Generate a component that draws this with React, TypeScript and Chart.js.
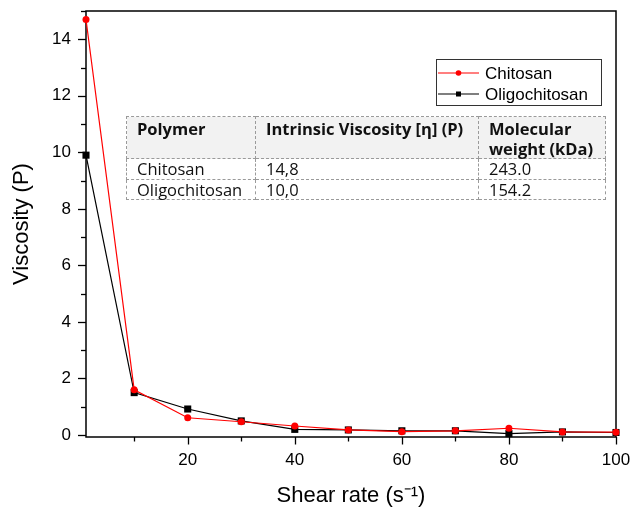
import React, { useEffect, useRef } from "react";
import { Chart, registerables } from "chart.js";

Chart.register(...registerables);

// ---- data ----
const shearRate = [1, 10, 20, 30, 40, 50, 60, 70, 80, 90, 100];
const chitosan = [14.7, 1.6, 0.61, 0.47, 0.32, 0.18, 0.12, 0.15, 0.24, 0.11, 0.1];
const oligochitosan = [9.9, 1.5, 0.92, 0.5, 0.2, 0.18, 0.15, 0.15, 0.05, 0.11, 0.09];
const seriesNames = ["Chitosan", "Oligochitosan"];

const xTickValues = [10, 20, 30, 40, 50, 60, 70, 80, 90, 100];
const xLabeledTicks = [20, 40, 60, 80, 100];
const yTickValues = [0, 1, 2, 3, 4, 5, 6, 7, 8, 9, 10, 11, 12, 13, 14, 15];
const yLabeledTicks = [0, 2, 4, 6, 8, 10, 12, 14];

const tableHeader = ["Polymer", "Intrinsic Viscosity [η] (P)", "Molecular\nweight (kDa)"];
const tablePolymers = ["Chitosan", "Oligochitosan"];
const tableIntrinsic = ["14,8", "10,0"];
const tableMolWeight = ["243.0", "154.2"];

const AXIS_FONT = "'Liberation Sans', Arial, sans-serif";
const TABLE_FONT = "'Open Sans', 'Noto Sans', sans-serif";

const frameAndTicksPlugin = {
  id: "frameAndTicks",
  beforeDatasetsDraw(chart: any) {
    const { ctx, chartArea: a, scales } = chart;
    ctx.save();
    ctx.strokeStyle = "#000";
    ctx.lineWidth = 1.5;
    ctx.strokeRect(a.left, a.top, a.right - a.left, a.bottom - a.top);
    ctx.lineWidth = 1.3;
    const xs = scales.x;
    xs.ticks.forEach((t: any) => {
      const px = Math.round(xs.getPixelForValue(t.value)) + 0.5;
      const len = xLabeledTicks.includes(t.value) ? 7.5 : 4.5;
      ctx.beginPath();
      ctx.moveTo(px, a.bottom);
      ctx.lineTo(px, a.bottom + len);
      ctx.stroke();
    });
    const ys = scales.y;
    ys.ticks.forEach((t: any) => {
      const py = Math.round(ys.getPixelForValue(t.value)) + 0.5;
      const len = yLabeledTicks.includes(t.value) ? 8 : 5;
      ctx.beginPath();
      ctx.moveTo(a.left, py);
      ctx.lineTo(a.left - len, py);
      ctx.stroke();
    });
    ctx.restore();
  },
};

const legendPlugin = {
  id: "boxLegend",
  afterDraw(chart: any) {
    const { ctx, chartArea: a } = chart;
    const boxW = 165;
    const boxH = 46;
    const x0 = a.right - 15 - boxW;
    const y0 = a.top + 48;
    ctx.save();
    ctx.strokeStyle = "#333";
    ctx.lineWidth = 1;
    ctx.strokeRect(x0 + 0.5, y0 + 0.5, boxW, boxH);
    ctx.font = `17px ${AXIS_FONT}`;
    ctx.textBaseline = "middle";
    ctx.textAlign = "left";
    chart.data.datasets.forEach((ds: any, i: number) => {
      const cy = y0 + 14 + i * 21;
      ctx.strokeStyle = ds.borderColor;
      ctx.lineWidth = 1.2;
      ctx.beginPath();
      ctx.moveTo(x0 + 2, cy);
      ctx.lineTo(x0 + 43, cy);
      ctx.stroke();
      ctx.fillStyle = ds.borderColor;
      if (ds.pointStyle === "rect") {
        ctx.fillRect(x0 + 20, cy - 2.5, 5, 5);
      } else {
        ctx.beginPath();
        ctx.arc(x0 + 22.5, cy, 2.8, 0, Math.PI * 2);
        ctx.fill();
      }
      ctx.fillStyle = "#000";
      ctx.fillText(ds.label, x0 + 49, cy + 1);
    });
    ctx.restore();
  },
};

function DataTable() {
  const border = "1px dashed #9a9a9a";
  const cell: React.CSSProperties = {
    border,
    padding: "0 0 0 10px",
    textAlign: "left",
    verticalAlign: "middle",
    whiteSpace: "pre-line",
  };
  const widths = [129, 223, 127];
  return (
    <table
      style={{
        position: "absolute",
        left: 126,
        top: 116,
        width: 479,
        borderCollapse: "collapse",
        tableLayout: "fixed",
        fontFamily: TABLE_FONT,
        fontSize: 16.5,
        lineHeight: "19.5px",
        color: "#111",
        background: "#fff",
      }}
    >
      <colgroup>
        {widths.map((w, i) => (
          <col key={i} style={{ width: w }} />
        ))}
      </colgroup>
      <thead>
        <tr style={{ height: 41, background: "#f2f2f2" }}>
          {tableHeader.map((h, i) => (
            <th key={i} style={{ ...cell, fontWeight: 700, verticalAlign: "top", paddingTop: 2 }}>
              {h}
            </th>
          ))}
        </tr>
      </thead>
      <tbody>
        {tablePolymers.map((p, r) => (
          <tr key={r} style={{ height: 19 }}>
            <td style={cell}>{p}</td>
            <td style={cell}>{tableIntrinsic[r]}</td>
            <td style={cell}>{tableMolWeight[r]}</td>
          </tr>
        ))}
      </tbody>
    </table>
  );
}

export default function App() {
  const canvasRef = useRef<HTMLCanvasElement>(null);

  useEffect(() => {
    if (!canvasRef.current) return;
    const chart = new Chart(canvasRef.current, {
      type: "line",
      data: {
        labels: shearRate,
        datasets: [
          {
            label: seriesNames[0],
            data: shearRate.map((x, i) => ({ x, y: chitosan[i] })),
            borderColor: "#ff0000",
            backgroundColor: "#ff0000",
            borderWidth: 1.2,
            pointStyle: "circle",
            pointRadius: 3.5,
            pointBorderWidth: 0,
            tension: 0,
            clip: false as any,
          },
          {
            label: seriesNames[1],
            data: shearRate.map((x, i) => ({ x, y: oligochitosan[i] })),
            borderColor: "#000000",
            backgroundColor: "#000000",
            borderWidth: 1.2,
            pointStyle: "rect",
            pointRadius: 5,
            pointBorderWidth: 0,
            tension: 0,
            clip: false as any,
          },
        ],
      },
      options: {
        animation: false,
        responsive: false,
        devicePixelRatio: 1,
        layout: { padding: { top: 11, right: 17, left: 0, bottom: 0 } },
        plugins: {
          legend: { display: false },
          tooltip: { enabled: false },
        },
        scales: {
          x: {
            type: "linear",
            min: 1,
            max: 100,
            afterBuildTicks: (s: any) => {
              s.ticks = xTickValues.map((v) => ({ value: v }));
            },
            afterFit: (s: any) => {
              s.height = 73;
              s.paddingLeft = 0;
              s.paddingRight = 0;
            },
            grid: { display: false, drawTicks: false },
            border: { display: false },
            ticks: {
              autoSkip: false,
              maxRotation: 0,
              padding: 13,
              color: "#000",
              font: { family: AXIS_FONT, size: 17 },
              callback: (v: any) => (xLabeledTicks.includes(Number(v)) ? String(v) : ""),
            },
            title: {
              display: true,
              text: "Shear rate (s⁻¹)",
              color: "#000",
              font: { family: AXIS_FONT, size: 22 },
              padding: { top: 0, bottom: 1 },
            },
          },
          y: {
            type: "linear",
            min: -0.07,
            max: 15,
            afterBuildTicks: (s: any) => {
              s.ticks = yTickValues.map((v) => ({ value: v }));
            },
            afterFit: (s: any) => {
              s.width = 86;
              s.paddingTop = 0;
              s.paddingBottom = 0;
            },
            grid: { display: false, drawTicks: false },
            border: { display: false },
            ticks: {
              autoSkip: false,
              padding: 15,
              color: "#000",
              font: { family: AXIS_FONT, size: 17 },
              callback: (v: any) => (yLabeledTicks.includes(Number(v)) ? String(v) : ""),
            },
            title: {
              display: true,
              text: "Viscosity (P)",
              color: "#000",
              font: { family: AXIS_FONT, size: 22 },
              padding: { top: 9, bottom: 0 },
            },
          },
        },
      },
      plugins: [frameAndTicksPlugin, legendPlugin],
    } as any);
    return () => chart.destroy();
  }, []);

  return (
    <div style={{ position: "absolute", left: 0, top: 0, width: 633, height: 510, background: "#fff" }}>
      <canvas ref={canvasRef} width={633} height={510} style={{ display: "block" }} />
      <DataTable />
    </div>
  );
}
